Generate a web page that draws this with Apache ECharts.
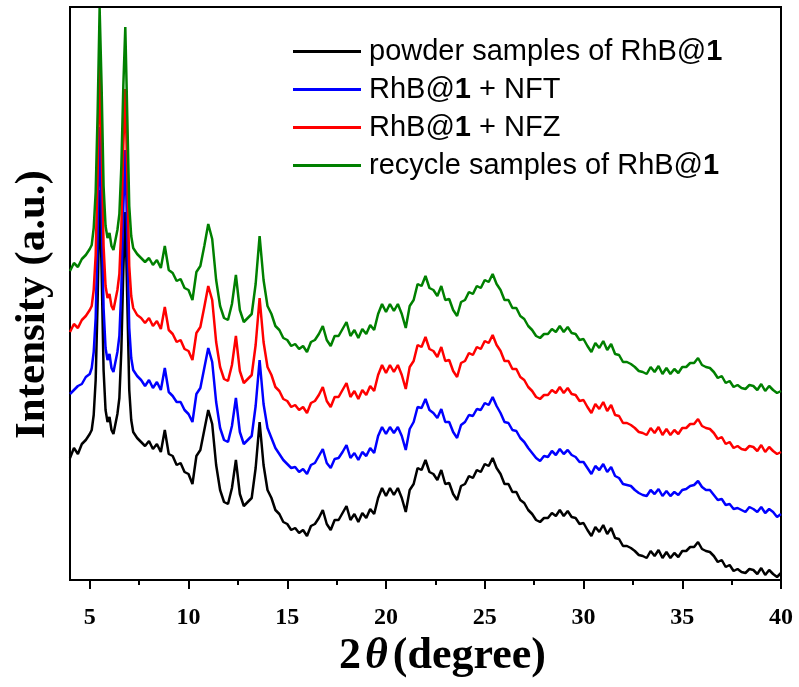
<!DOCTYPE html>
<html><head><meta charset="utf-8">
<script src="https://cdn.jsdelivr.net/npm/echarts@6/dist/echarts.min.js"></script>
<style>html,body{margin:0;padding:0;background:#fff}#c{width:799px;height:687px}</style>
</head><body><div id="c"></div>
<script>
const seriesNames = ['powder samples of RhB@1', 'RhB@1 + NFT', 'RhB@1 + NFZ', 'recycle samples of RhB@1'];
const seriesColors = ['#000000', '#0000ff', '#ff0000', '#008000'];
const majorTicks = [5, 10, 15, 20, 25, 30, 35, 40];
const minorTicks = [7.5, 12.5, 17.5, 22.5, 27.5, 32.5, 37.5];

const twoTheta = [
4.0,4.2,4.4,4.6,4.8,
5.0,5.1,5.2,5.3,5.4,5.5,5.6,5.7,5.8,5.9,
6.0,6.1,6.2,6.3,6.4,6.5,6.6,6.7,6.8,6.9,
7.0,7.1,7.2,7.4,7.6,7.8,
8.0,8.2,8.4,8.6,8.8,
9.0,9.2,9.4,9.6,9.8,
10.0,10.2,10.4,10.6,10.8,
11.0,11.2,11.4,11.6,11.8,
12.0,12.2,12.4,12.6,12.8,
13.0,13.2,13.4,13.6,13.8,
14.0,14.2,14.4,14.6,14.8,
15.0,15.2,15.4,15.6,15.8,
16.0,16.2,16.4,16.6,16.8,
17.0,17.2,17.4,17.6,17.8,
18.0,18.2,18.4,18.6,18.8,
19.0,19.2,19.4,19.6,19.8,
20.0,20.2,20.4,20.6,20.8,
21.0,21.2,21.4,21.6,21.8,
22.0,22.2,22.4,22.6,22.8,
23.0,23.2,23.4,23.6,23.8,
24.0,24.2,24.4,24.6,24.8,
25.0,25.2,25.4,25.6,25.8,
26.0,26.2,26.4,26.6,26.8,
27.0,27.2,27.4,27.6,27.8,
28.0,28.2,28.4,28.6,28.8,
29.0,29.2,29.4,29.6,29.8,
30.0,30.2,30.4,30.6,30.8,
31.0,31.2,31.4,31.6,31.8,
32.0,32.2,32.4,32.6,32.8,
33.0,33.2,33.4,33.6,33.8,
34.0,34.2,34.4,34.6,34.8,
35.0,35.2,35.4,35.6,35.8,
36.0,36.2,36.4,36.6,36.8,
37.0,37.2,37.4,37.6,37.8,
38.0,38.2,38.4,38.6,38.8,
39.0,39.2,39.4,39.6,39.8,
40.0];

const powder = [
122,132,126,136,140,
146,150,165,200,280,390,310,210,170,158,
163,150,146,156,166,182,230,310,368,280,
190,160,148,142,138,134,
139,131,136,128,150,
126,124,115,117,108,
106,96,124,130,150,
170,156,115,90,78,
76,92,120,86,74,
78,82,112,158,115,
90,82,70,66,58,
56,50,52,47,50,
44,54,56,62,70,
56,50,60,60,67,
74,60,66,58,67,
62,71,66,82,92,
84,92,85,92,82,
68,90,96,112,110,
120,108,106,100,110,
96,97,86,80,94,
96,104,102,110,108,
116,114,122,112,106,
96,96,88,88,80,
77,70,66,60,58,
62,62,67,64,70,
64,69,63,62,56,
57,50,44,53,48,
55,46,52,42,41,
34,34,32,29,25,
24,22,29,24,30,
22,28,22,27,23,
29,29,33,33,38,
31,29,28,24,18,
20,13,15,9,11,
8,7,11,10,6,
12,5,10,6,3,
7];

const withNFT = [
186,190,194,196,203,
206,212,228,262,345,453,372,272,232,220,
226,212,208,218,228,244,292,372,430,342,
252,222,210,204,200,194,
200,192,198,190,212,
188,184,178,178,170,
166,158,186,192,212,
232,218,178,152,140,
138,154,182,148,136,
140,144,174,220,176,
152,142,132,126,120,
116,112,113,108,111,
106,115,117,124,131,
117,112,121,122,128,
135,122,127,120,128,
124,132,127,144,153,
146,153,147,153,144,
130,151,158,173,172,
181,170,167,162,171,
158,158,148,142,155,
158,165,164,171,170,
177,175,183,174,167,
158,157,150,149,142,
138,132,127,122,119,
124,123,129,125,131,
126,130,125,123,118,
118,112,106,114,110,
116,108,113,104,102,
96,95,94,90,87,
85,84,90,86,91,
84,89,84,88,85,
90,91,94,95,99,
93,90,90,85,80,
81,75,76,71,72,
70,68,73,71,68,
73,67,71,68,63,
66];

const withNFZ = [
248,256,252,260,264,
270,274,290,325,408,515,434,334,294,282,
286,274,270,280,290,306,354,434,491,404,
314,284,272,265,262,257,
262,254,259,251,273,
250,246,238,240,231,
229,220,247,253,273,
294,280,238,213,201,
199,215,244,209,197,
201,205,235,282,238,
213,205,193,189,181,
179,173,175,170,173,
167,177,179,185,193,
179,173,183,183,190,
197,183,189,181,190,
185,194,189,205,215,
207,215,208,215,205,
191,213,219,235,233,
243,231,229,223,233,
219,220,209,203,217,
219,227,225,233,231,
239,237,245,235,229,
219,219,211,211,203,
200,193,189,183,181,
185,185,190,187,193,
187,192,186,185,179,
180,173,167,176,171,
178,169,175,165,164,
157,157,155,152,148,
147,145,152,147,153,
145,151,145,150,146,
152,152,156,156,161,
154,152,151,147,141,
143,136,138,132,134,
131,130,134,133,129,
135,128,133,129,126,
128];

const recycled = [
309,317,313,321,325,
331,335,352,388,468,572,494,394,354,342,
347,334,330,340,350,366,414,494,553,464,
374,344,332,326,322,318,
322,315,320,312,334,
310,307,299,301,292,
290,280,308,314,334,
356,341,300,274,262,
260,276,305,270,258,
262,266,296,344,300,
274,266,254,250,242,
240,234,236,231,234,
228,238,240,246,254,
240,234,244,244,251,
258,244,250,242,251,
246,255,250,266,276,
268,276,269,276,266,
252,274,280,296,294,
304,292,290,284,294,
280,281,270,264,278,
280,288,286,294,292,
300,298,306,296,290,
280,280,272,272,264,
261,254,250,244,242,
246,246,251,248,254,
248,253,247,246,240,
241,234,228,237,232,
239,230,236,226,225,
218,218,216,213,209,
208,206,213,208,214,
206,212,206,211,207,
213,213,217,217,222,
215,213,212,208,202,
204,197,199,193,195,
192,191,195,194,190,
196,189,194,190,187,
189];

const seriesValues = [powder, withNFT, withNFZ, recycled];

const chart = echarts.init(document.getElementById('c'), null, {renderer: 'canvas'});
const serif = 'Liberation Serif, Times New Roman, serif';
const sans = 'Liberation Sans, Arial, sans-serif';

function legendFmt(name) {
  const parts = name.split('@1');
  let s = '{p|' + parts[0] + '@}{b|1}';
  if (parts[1]) s += '{n|' + parts[1] + '}';
  return s;
}

const option = {
  animation: false,
  backgroundColor: '#fff',
  grid: {left: 70, right: 18, top: 7, bottom: 107, show: true, borderColor: '#000', borderWidth: 2, backgroundColor: 'transparent'},
  legend: {
    orient: 'vertical', left: 293, top: 37, padding: 0,
    icon: 'rect', itemWidth: 68, itemHeight: 3, itemGap: 9,
    data: seriesNames,
    formatter: legendFmt,
    textStyle: {
      color: '#000', fontFamily: sans, fontSize: 29,
      rich: {
        p: {fontFamily: sans, fontSize: 29, lineHeight: 28, color: '#000', padding: [0, 0, 0, 3]},
        n: {fontFamily: sans, fontSize: 29, lineHeight: 28, color: '#000'},
        b: {fontFamily: sans, fontSize: 29, lineHeight: 28, color: '#000', fontWeight: 'bold'}
      }
    }
  },
  xAxis: [{
    type: 'value', min: 4, max: 40, position: 'bottom',
    name: '{a|2}{t|θ}{a|(degree)}', nameLocation: 'middle', nameGap: 50,
    nameTextStyle: {
      padding: [0, 0, 0, 34],
      rich: {
        a: {fontFamily: serif, fontWeight: 'bold', fontSize: 44, color: '#000'},
        t: {fontFamily: serif, fontWeight: 'bold', fontStyle: 'italic', fontSize: 44, color: '#000', padding: [0, 5, 0, 4]}
      }
    },
    axisLine: {show: true, lineStyle: {color: '#000', width: 2}},
    axisTick: {show: true, inside: false, length: 9, customValues: majorTicks, lineStyle: {color: '#000', width: 2}},
    axisLabel: {show: true, customValues: majorTicks, margin: 26, fontFamily: serif, fontWeight: 'bold', fontSize: 24, color: '#000'},
    splitLine: {show: false}
  }, {
    type: 'value', min: 4, max: 40, position: 'bottom',
    axisLine: {show: false},
    axisTick: {show: true, inside: false, length: 5, customValues: minorTicks, lineStyle: {color: '#000', width: 2}},
    axisLabel: {show: false},
    splitLine: {show: false}
  }],
  yAxis: {
    type: 'value', min: 0, max: 573,
    name: 'Intensity (a.u.)', nameLocation: 'middle', nameGap: 16, nameRotate: 90,
    nameTextStyle: {fontFamily: serif, fontWeight: 'bold', fontSize: 43, color: '#000', padding: [0, 22, 0, 0]},
    axisLine: {show: true, lineStyle: {color: '#000', width: 2}},
    axisTick: {show: false}, axisLabel: {show: false}, splitLine: {show: false}
  },
  series: seriesNames.map((name, k) => ({
    name: name, type: 'line', xAxisIndex: 0, symbol: 'none', smooth: false,
    lineStyle: {color: seriesColors[k], width: 2.5},
    itemStyle: {color: seriesColors[k]},
    data: twoTheta.map((x, i) => [x, seriesValues[k][i]])
  }))
};
chart.setOption(option);
</script>
</body></html>
